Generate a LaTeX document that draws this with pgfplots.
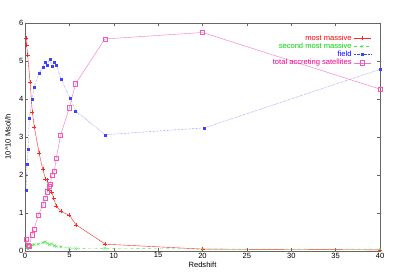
\documentclass[border=0pt]{standalone}
\usepackage{fontspec}
\setmainfont{Liberation Sans}
\usepackage{pgfplots}
\pgfplotsset{compat=1.18}
\begin{document}
\fontsize{7.6}{9}\selectfont
\begin{tikzpicture}
\begin{axis}[name=ax,
  scale only axis, width=355bp, height=228bp,
  xmin=0, xmax=40, ymin=0, ymax=6,
  xtick={0,5,...,40}, ytick={0,1,...,6},
  tick align=inside, major tick length=3bp,
  axis line style={black!60, line width=0.7bp},
  tick style={black!60, line width=0.5bp},
  /pgf/number format/assume math mode=true,
  tick label style={font=\fontsize{7.6}{9}\selectfont},
  label style={font=\fontsize{7.6}{9}\selectfont},
  xlabel={Redshift}, ylabel={10\^{}10 Msol/h},
  xlabel style={yshift=1bp}, ylabel style={yshift=3bp},
  xticklabel style={yshift=1bp}, yticklabel style={xshift=1bp},
  legend style={draw=none, fill=none, at={(rel axis cs:0.978,0.962)}, anchor=north east,
    font=\fontsize{7.6}{9}\selectfont, row sep=-2.4bp, inner sep=1bp},
  legend cell align=right, legend plot pos=right,
]
\addplot[red!85, line width=0.4bp, mark=+, mark size=2bp, mark options={solid}] coordinates {
(0.11,5.61)(0.19,5.41)(0.30,5.15)(0.57,4.45)(0.83,3.65)(1.06,3.25)(1.59,2.57)(2.0,2.15)(2.3,1.90)(2.46,1.88)(2.76,1.60)(2.99,1.56)(3.22,1.40)(3.52,1.18)(4.05,1.04)(5.0,0.94)(5.75,0.69)(9.05,0.18)(20,0.05)(40,0.03)};
\addlegendentry[text=red]{most massive}
\addplot[green!85!black!70!white, line width=0.4bp, dashed, mark=x, mark size=1.8bp, mark options={solid}] coordinates {
(0.11,0.22)(0.19,0.07)(0.34,0.05)(0.57,0.12)(0.8,0.15)(1.02,0.17)(1.5,0.18)(2.0,0.22)(2.27,0.24)(2.5,0.2)(2.76,0.17)(3.03,0.19)(3.3,0.14)(3.52,0.12)(4.05,0.11)(5.0,0.07)(5.7,0.06)(9.0,0.07)(20,0.05)(40,0.05)};
\addlegendentry[text=green!85!black]{second most massive}
\addplot[blue!75, line width=0.4bp, densely dotted, mark=square*, mark size=1.0bp, mark options={solid}] coordinates {
(0.11,1.60)(0.23,2.28)(0.34,2.68)(0.49,3.50)(0.80,3.99)(1.02,4.30)(1.55,4.67)(2.0,4.84)(2.27,4.97)(2.5,4.89)(2.8,5.06)(3.03,4.86)(3.3,4.96)(3.55,4.89)(4.05,4.53)(5.07,4.03)(5.7,3.69)(9.0,3.06)(20.2,3.24)(40,4.78)};
\addlegendentry[text=blue]{field}
\addplot[magenta!55, line width=0.4bp, mark=square, mark size=2.1bp, mark options={solid, magenta!65}] coordinates {
(0.11,0.32)(0.34,0.15)(0.45,0.13)(0.8,0.43)(1.02,0.58)(1.5,0.94)(2.03,1.22)(2.27,1.38)(2.53,1.56)(2.76,1.71)(2.85,1.75)(3.03,2.0)(3.3,2.1)(3.52,2.44)(4.0,3.04)(5.0,3.77)(5.7,4.40)(9.0,5.58)(20.0,5.75)(40,4.26)};
\addlegendentry[text=magenta]{total accreting satellites}
\end{axis}
\pgfresetboundingbox
\path ([xshift=-25bp,yshift=-24bp]ax.south west) rectangle ([xshift=13bp,yshift=23bp]ax.north east);
\end{tikzpicture}
\end{document}
